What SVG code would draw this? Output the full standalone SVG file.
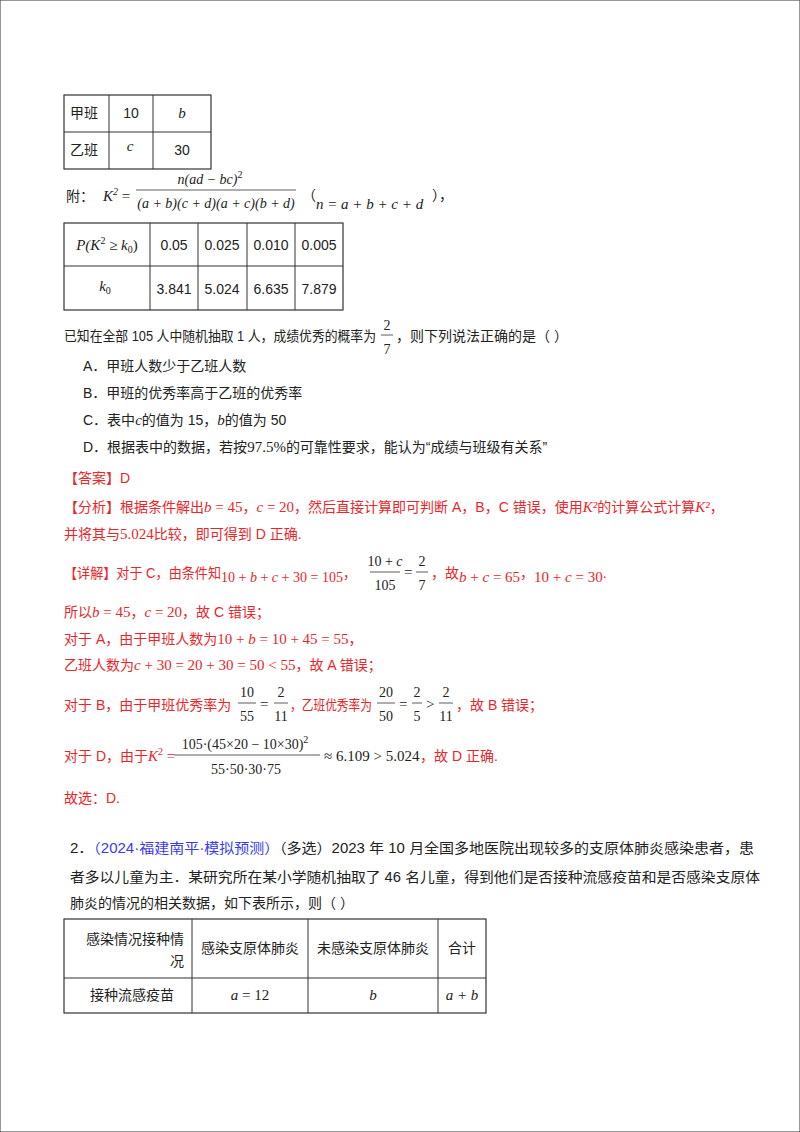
<svg xmlns="http://www.w3.org/2000/svg" width="800" height="1132" viewBox="0 0 800 1132">
<style>
text{font-family:"Liberation Sans","Noto Sans CJK SC",sans-serif;font-size:14px;fill:#222}
.m{font-family:"Liberation Serif","Noto Sans CJK SC",serif;font-size:15px}
.f{font-family:"Liberation Serif",serif;font-size:14px}
.i{font-style:italic}
.r,.r tspan{fill:#e8262b}
.b{fill:#3a3af0}
.s{font-size:10px}
.c{text-anchor:middle}
line,rect{stroke:#333;fill:none}
</style>
<rect width="800" height="1132" fill="#fff" stroke="none"/>
<g id="t1">
<rect x="64" y="95" width="147" height="74" stroke-width="1.2"/>
<line x1="109" y1="95" x2="109" y2="169"/><line x1="153" y1="95" x2="153" y2="169"/>
<line x1="64" y1="132" x2="211" y2="132"/>
<text x="70" y="118">甲班</text><text x="131" y="118" class="c">10</text><text x="182" y="118" class="m i c">b</text>
<text x="70" y="155">乙班</text><text x="130" y="151" class="m i c">c</text><text x="182" y="155" class="c">30</text>
</g>
<g id="formula">
<text x="66" y="201">附：</text>
<text x="103" y="201" class="m i">K<tspan class="s" dy="-6">2</tspan><tspan dy="6" font-style="normal"> =</tspan></text>
<text x="210" y="184" class="f i c">n(ad − bc)<tspan class="s" dy="-6" font-style="normal">2</tspan></text>
<line x1="136" y1="190" x2="296" y2="190" stroke-width="0.8"/>
<text x="216" y="208" class="f i c">(a + b)(c + d)(a + c)(b + d)</text>
<text x="302" y="200">（</text>
<text x="316" y="209" class="m i">n = a + b + c + d</text>
<text x="432" y="200">），</text>
</g>
<g id="t2">
<rect x="64" y="223" width="279" height="87" stroke-width="1.2"/>
<line x1="150" y1="223" x2="150" y2="310"/><line x1="198" y1="223" x2="198" y2="310"/><line x1="247" y1="223" x2="247" y2="310"/><line x1="295" y1="223" x2="295" y2="310"/>
<line x1="64" y1="266" x2="343" y2="266"/>
<text x="107" y="250" class="m i c">P(K<tspan class="s" dy="-6" font-style="normal">2</tspan><tspan dy="6" font-style="normal"> ≥ </tspan>k<tspan class="s" dy="3" font-style="normal">0</tspan><tspan dy="-3" font-style="normal">)</tspan></text>
<text x="174" y="250" class="c">0.05</text><text x="222" y="250" class="c">0.025</text><text x="271" y="250" class="c">0.010</text><text x="319" y="250" class="c">0.005</text>
<text x="105" y="291" class="m i c">k<tspan class="s" dy="3" font-style="normal">0</tspan></text>
<text x="174" y="294" class="c">3.841</text><text x="222" y="294" class="c">5.024</text><text x="271" y="294" class="c">6.635</text><text x="319" y="294" class="c">7.879</text>
</g>
<g id="q1">
<text x="64" y="341" textLength="312" lengthAdjust="spacingAndGlyphs">已知在全部 105 人中随机抽取 1 人，成绩优秀的概率为</text>
<text x="387" y="330" class="f c">2</text><line x1="381" y1="335" x2="393" y2="335" stroke-width="0.8"/><text x="387" y="354" class="f c">7</text>
<text x="396" y="341">，则下列说法正确的是（      ）</text>
<text x="83" y="371">A．甲班人数少于乙班人数</text>
<text x="83" y="398">B．甲班的优秀率高于乙班的优秀率</text>
<text x="83" y="425">C．表中<tspan class="m i">c</tspan>的值为 15，<tspan class="m i">b</tspan>的值为 50</text>
<text x="83" y="452">D．根据表中的数据，若按<tspan class="m">97.5%</tspan>的可靠性要求，能认为“成绩与班级有关系”</text>
</g>
<g id="answer">
<text x="64" y="483" class="r">【答案】D</text>
<text x="64" y="512" class="r">【分析】根据条件解出<tspan class="m i" fill="#222">b</tspan><tspan class="m" fill="#222"> = 45</tspan>，<tspan class="m i" fill="#222">c</tspan><tspan class="m" fill="#222"> = 20</tspan>，然后直接计算即可判断 A，B，C 错误，使用<tspan class="m i" fill="#222">K²</tspan>的计算公式计算<tspan class="m i" fill="#222">K²</tspan>，</text>
<text x="64" y="539" class="r">并将其与<tspan class="m" fill="#222">5.024</tspan>比较，即可得到 D 正确.</text>
<text x="64" y="578" class="r" textLength="292" lengthAdjust="spacingAndGlyphs">【详解】对于 C，由条件知<tspan class="m" fill="#222" dy="4">10 + <tspan class="i" fill="#222">b</tspan> + <tspan class="i" fill="#222">c</tspan> + 30 = 105</tspan><tspan dy="-4">，</tspan></text>
<text x="385" y="566" class="f c">10 + <tspan class="i">c</tspan></text><line x1="370" y1="572" x2="400" y2="572" stroke-width="0.8"/><text x="385" y="590" class="f c">105</text>
<text x="404" y="577" class="m">=</text>
<text x="422" y="566" class="f c">2</text><line x1="416" y1="572" x2="428" y2="572" stroke-width="0.8"/><text x="422" y="590" class="f c">7</text>
<text x="431" y="578" class="r">，故<tspan class="m" fill="#222" dy="4"><tspan class="i" fill="#222">b</tspan> + <tspan class="i" fill="#222">c</tspan> = 65</tspan><tspan dy="-4">，</tspan><tspan class="m" fill="#222" dy="4">10 + <tspan class="i" fill="#222">c</tspan> = 30</tspan><tspan dy="-4">.</tspan></text>
<text x="64" y="617" class="r">所以<tspan class="m i" fill="#222">b</tspan><tspan class="m" fill="#222"> = 45</tspan>，<tspan class="m i" fill="#222">c</tspan><tspan class="m" fill="#222"> = 20</tspan>，故 C 错误；</text>
<text x="64" y="644" class="r">对于 A，由于甲班人数为<tspan class="m" fill="#222">10 + <tspan class="i" fill="#222">b</tspan> = 10 + 45 = 55</tspan>，</text>
<text x="64" y="670" class="r">乙班人数为<tspan class="m" fill="#222"><tspan class="i" fill="#222">c</tspan> + 30 = 20 + 30 = 50 &lt; 55</tspan>，故 A 错误；</text>
<text x="64" y="710" class="r">对于 B，由于甲班优秀率为</text>
<text x="247" y="697" class="f c">10</text><line x1="238" y1="703" x2="256" y2="703" stroke-width="0.8"/><text x="247" y="721" class="f c">55</text>
<text x="260" y="709" class="m">=</text>
<text x="281" y="697" class="f c">2</text><line x1="274" y1="703" x2="288" y2="703" stroke-width="0.8"/><text x="281" y="721" class="f c">11</text>
<text x="290" y="710" class="r" textLength="82" lengthAdjust="spacingAndGlyphs">，乙班优秀率为</text>
<text x="386" y="697" class="f c">20</text><line x1="377" y1="703" x2="395" y2="703" stroke-width="0.8"/><text x="386" y="721" class="f c">50</text>
<text x="399" y="709" class="m">=</text>
<text x="417" y="697" class="f c">2</text><line x1="412" y1="703" x2="422" y2="703" stroke-width="0.8"/><text x="417" y="721" class="f c">5</text>
<text x="426" y="709" class="m">&gt;</text>
<text x="446" y="697" class="f c">2</text><line x1="439" y1="703" x2="453" y2="703" stroke-width="0.8"/><text x="446" y="721" class="f c">11</text>
<text x="456" y="710" class="r">，故 B 错误；</text>
<text x="64" y="761" class="r">对于 D，由于<tspan class="m i" fill="#222">K</tspan><tspan class="m s" fill="#222" dy="-6">2</tspan><tspan class="m" fill="#222" dy="6"> =</tspan></text>
<text x="245" y="749" class="f c">105·(45×20 − 10×30)<tspan class="s" dy="-6">2</tspan></text>
<line x1="174" y1="755" x2="320" y2="755" stroke-width="0.8"/>
<text x="246" y="774" class="f c">55·50·30·75</text>
<text x="324" y="761" class="m">≈ 6.109 &gt; 5.024</text>
<text x="420" y="761" class="r">，故 D 正确.</text>
<text x="64" y="803" class="r">故选：D.</text>
</g>
<g id="q2">
<text x="70" y="853" textLength="684" lengthAdjust="spacingAndGlyphs">2．<tspan class="b">（2024·福建南平·模拟预测）</tspan>（多选）2023 年 10 月全国多地医院出现较多的支原体肺炎感染患者，患</text>
<text x="70" y="882" textLength="690" lengthAdjust="spacingAndGlyphs">者多以儿童为主．某研究所在某小学随机抽取了 46 名儿童，得到他们是否接种流感疫苗和是否感染支原体</text>
<text x="70" y="908">肺炎的情况的相关数据，如下表所示，则（      ）</text>
</g>
<g id="t3">
<rect x="64" y="919" width="422" height="94" stroke-width="1.2"/>
<line x1="192" y1="919" x2="192" y2="1013"/><line x1="308" y1="919" x2="308" y2="1013"/><line x1="438" y1="919" x2="438" y2="1013"/>
<line x1="64" y1="978" x2="486" y2="978"/>
<text x="184" y="944" text-anchor="end">感染情况接种情</text>
<text x="184" y="966" text-anchor="end">况</text>
<text x="250" y="953" class="c">感染支原体肺炎</text>
<text x="373" y="953" class="c">未感染支原体肺炎</text>
<text x="462" y="953" class="c">合计</text>
<text x="90" y="1000">接种流感疫苗</text>
<text x="250" y="1000" class="m c"><tspan class="i">a</tspan> = 12</text>
<text x="373" y="1000" class="m i c">b</text>
<text x="462" y="1000" class="m i c">a + b</text>
</g>
</svg>
